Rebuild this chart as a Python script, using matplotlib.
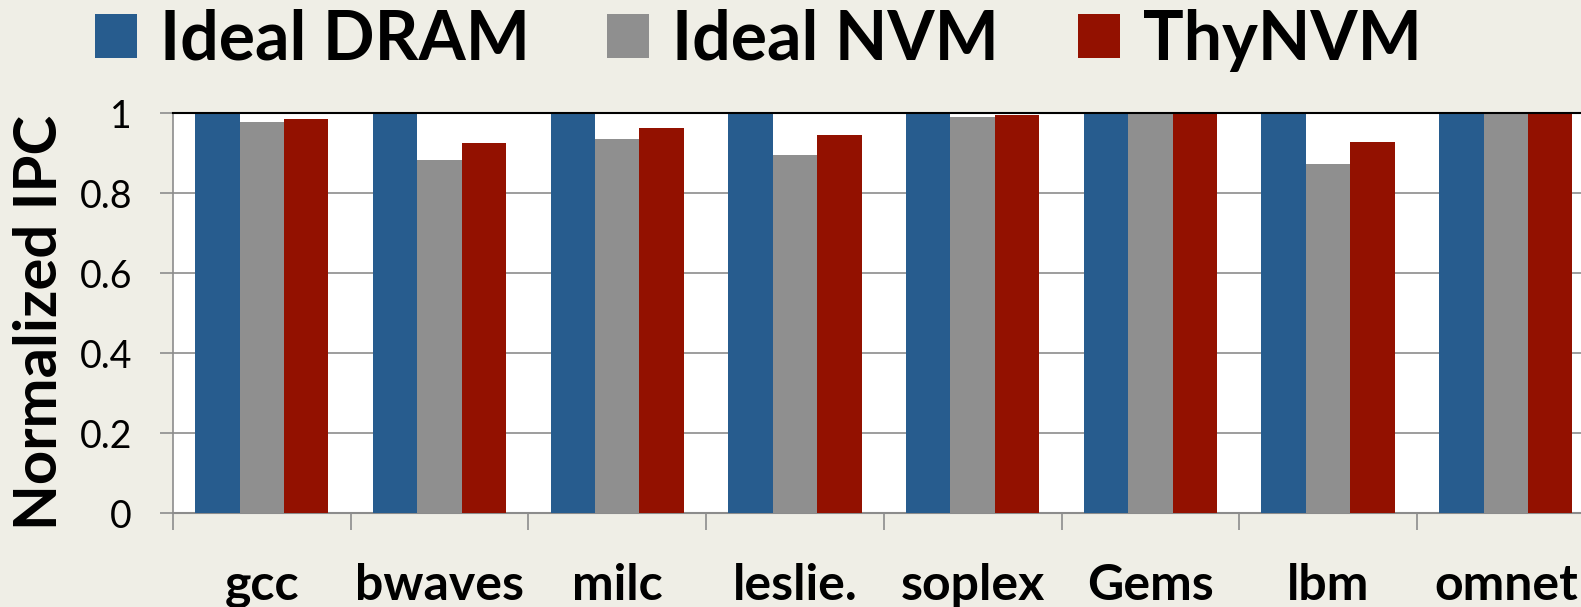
import matplotlib
matplotlib.use("Agg")
import matplotlib.pyplot as plt
import numpy as np

categories = ["gcc", "bwaves", "milc", "leslie.", "soplex", "Gems", "lbm", "omnet"]
ideal_dram = [1.0, 1.0, 1.0, 1.0, 1.0, 1.0, 1.0, 1.0]
ideal_nvm = [0.977, 0.883, 0.935, 0.894, 0.991, 1.0, 0.873, 0.997]
thynvm = [0.985, 0.924, 0.963, 0.945, 0.994, 1.0, 0.928, 1.0]
series_names = ["Ideal DRAM", "Ideal NVM", "ThyNVM"]
yticks = [0, 0.2, 0.4, 0.6, 0.8, 1]
ytick_labels = ["0", "0.2", "0.4", "0.6", "0.8", "1"]

colors = ["#275C8E", "#8F8F8F", "#931100"]
bg = "#EFEEE6"
grid_c = "#8C8C8C"

plt.rcParams['font.family'] = ['Lato', 'DejaVu Sans']

fig = plt.figure(figsize=(15.81, 6.07), dpi=100, facecolor=bg)
ax = fig.add_axes([173/1581, (607-513)/607, 1421.6/1581, 400/607])
ax.set_facecolor("white")

x = np.arange(len(categories))
w = 0.25
handles = []
for k, (vals, name) in enumerate(zip([ideal_dram, ideal_nvm, thynvm], series_names)):
    b = ax.bar(x + (k - 1) * w, vals, width=w, color=colors[k], label=name, zorder=3, linewidth=0)
    handles.append(b)

ax.set_xlim(-0.5, len(categories) - 0.5)
ax.set_ylim(0, 1)
ax.set_yticks(yticks)
ax.set_yticklabels(ytick_labels)
ax.yaxis.grid(True, color=grid_c, linewidth=1.2, zorder=0)
ax.set_axisbelow(True)

ax.set_xticks(x)
ax.set_xticklabels(categories, fontsize=36, fontweight='bold')
ax.set_xticks(np.arange(len(categories) + 1) - 0.5, minor=True)
ax.tick_params(axis='x', which='major', length=0, pad=36)
ax.tick_params(axis='x', which='minor', length=12, width=1.2, color=grid_c)
ax.tick_params(axis='y', which='major', length=9.5, width=1.2, color=grid_c, pad=20, labelsize=27)

ax.spines['right'].set_visible(False)
ax.spines['top'].set_color('black')
ax.spines['top'].set_linewidth(1.5)
ax.spines['top'].set_zorder(4)
ax.spines['left'].set_color(grid_c)
ax.spines['left'].set_linewidth(1.2)
ax.spines['bottom'].set_color(grid_c)
ax.spines['bottom'].set_linewidth(1.5)

ax.set_ylabel("Normalized IPC", fontsize=43, fontweight='bold')
ax.yaxis.set_label_coords((67 - 173) / 1421.6, 0.476)

legend_x = [95, 607, 1078]
for h, name, lx in zip(handles, series_names, legend_x):
    leg = fig.legend(handles=[h], labels=[name], loc='upper left',
                     bbox_to_anchor=(lx / 1581, 1 - 9 / 607), frameon=False,
                     prop={'family': 'Lato', 'weight': 'bold', 'size': 49},
                     handlelength=0.62, handleheight=0.62, handletextpad=0.34,
                     borderpad=0, borderaxespad=0)

fig.savefig("out.png", dpi=100, facecolor=bg)
